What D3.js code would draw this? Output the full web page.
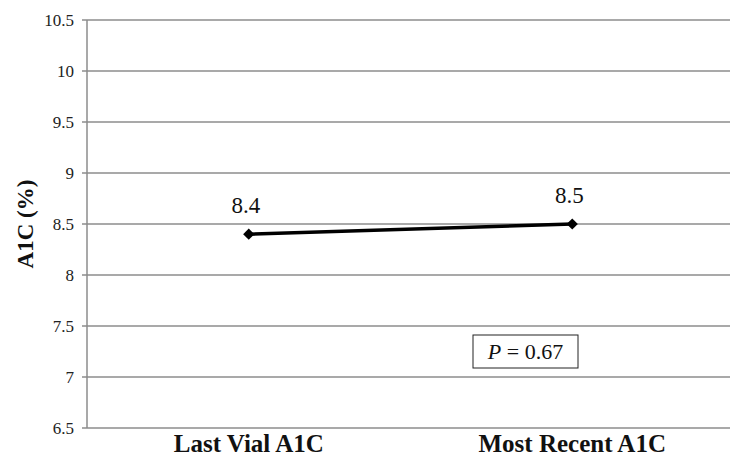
<!DOCTYPE html>
<html>
<head>
<meta charset="utf-8">
<script src="https://cdn.jsdelivr.net/npm/d3@7"></script>
<style>
  body { margin: 0; background: #fff; }
</style>
</head>
<body>
<div id="chart"></div>
<script>
// Data
const categories = ["Last Vial A1C", "Most Recent A1C"];
const a1cValues = [8.4, 8.5];
const yTicks = [6.5, 7, 7.5, 8, 8.5, 9, 9.5, 10, 10.5];
const pLabel = "0.67";

const width = 730;
const height = 457;
const margin = { top: 20, right: -4, bottom: 29, left: 87 };
const serif = "Liberation Serif";

const svg = d3.select("#chart")
    .append("svg")
    .attr("width", width)
    .attr("height", height)
    .style("display", "block");

const x = d3.scaleBand()
    .domain(categories)
    .range([margin.left, width - margin.right]);

const y = d3.scaleLinear()
    .domain([6.5, 10.5])
    .range([height - margin.bottom, margin.top]);

// Gridlines
svg.append("g")
    .selectAll("line")
    .data(yTicks)
    .join("line")
    .attr("x1", margin.left - 5)
    .attr("x2", width)
    .attr("y1", d => y(d))
    .attr("y2", d => y(d))
    .attr("stroke", "#8c8c8c")
    .attr("stroke-width", 1.5);

// Y axis line
svg.append("line")
    .attr("x1", margin.left)
    .attr("x2", margin.left)
    .attr("y1", y(10.5))
    .attr("y2", y(6.5))
    .attr("stroke", "#8c8c8c")
    .attr("stroke-width", 1.5);

// Y tick labels
svg.append("g")
    .selectAll("text")
    .data(yTicks)
    .join("text")
    .attr("x", margin.left - 13)
    .attr("y", d => y(d))
    .attr("dy", "0.35em")
    .attr("text-anchor", "end")
    .attr("font-family", serif)
    .attr("font-size", 17)
    .attr("fill", "#222")
    .text(d => d);

// Category labels
svg.append("g")
    .selectAll("text")
    .data(categories)
    .join("text")
    .attr("x", d => x(d) + x.bandwidth() / 2)
    .attr("y", height - 5)
    .attr("text-anchor", "middle")
    .attr("font-family", serif)
    .attr("font-size", 25)
    .attr("font-weight", "bold")
    .attr("fill", "#111")
    .text(d => d);

// Y axis title
svg.append("text")
    .attr("transform", `translate(33,${(y(10.5) + y(6.5)) / 2}) rotate(-90)`)
    .attr("text-anchor", "middle")
    .attr("font-family", serif)
    .attr("font-size", 23)
    .attr("font-weight", "bold")
    .attr("fill", "#111")
    .text("A1C (%)");

const pts = categories.map((c, i) => ({ c, v: a1cValues[i] }));

// Line
svg.append("path")
    .datum(pts)
    .attr("fill", "none")
    .attr("stroke", "#000")
    .attr("stroke-width", 3.5)
    .attr("d", d3.line()
        .x(d => x(d.c) + x.bandwidth() / 2)
        .y(d => y(d.v)));

// Diamond markers
svg.append("g")
    .selectAll("path")
    .data(pts)
    .join("path")
    .attr("transform", d => `translate(${x(d.c) + x.bandwidth() / 2},${y(d.v)})`)
    .attr("d", d3.symbol(d3.symbolDiamond2, 80))
    .attr("fill", "#000");

// Value labels
svg.append("g")
    .selectAll("text")
    .data(pts)
    .join("text")
    .attr("x", d => x(d.c) + x.bandwidth() / 2 - 3)
    .attr("y", d => y(d.v) - 21)
    .attr("text-anchor", "middle")
    .attr("font-family", serif)
    .attr("font-size", 23)
    .attr("fill", "#111")
    .text(d => d.v);

// P value box
const box = svg.append("g").attr("transform", "translate(473,335)");
box.append("rect")
    .attr("width", 105)
    .attr("height", 33)
    .attr("fill", "#fff")
    .attr("stroke", "#222")
    .attr("stroke-width", 1);
const pt = box.append("text")
    .attr("x", 52.5)
    .attr("y", 24)
    .attr("text-anchor", "middle")
    .attr("font-family", serif)
    .attr("font-size", 22)
    .attr("fill", "#111");
pt.append("tspan").attr("font-style", "italic").text("P");
pt.append("tspan").text(" = " + pLabel);
</script>
</body>
</html>
